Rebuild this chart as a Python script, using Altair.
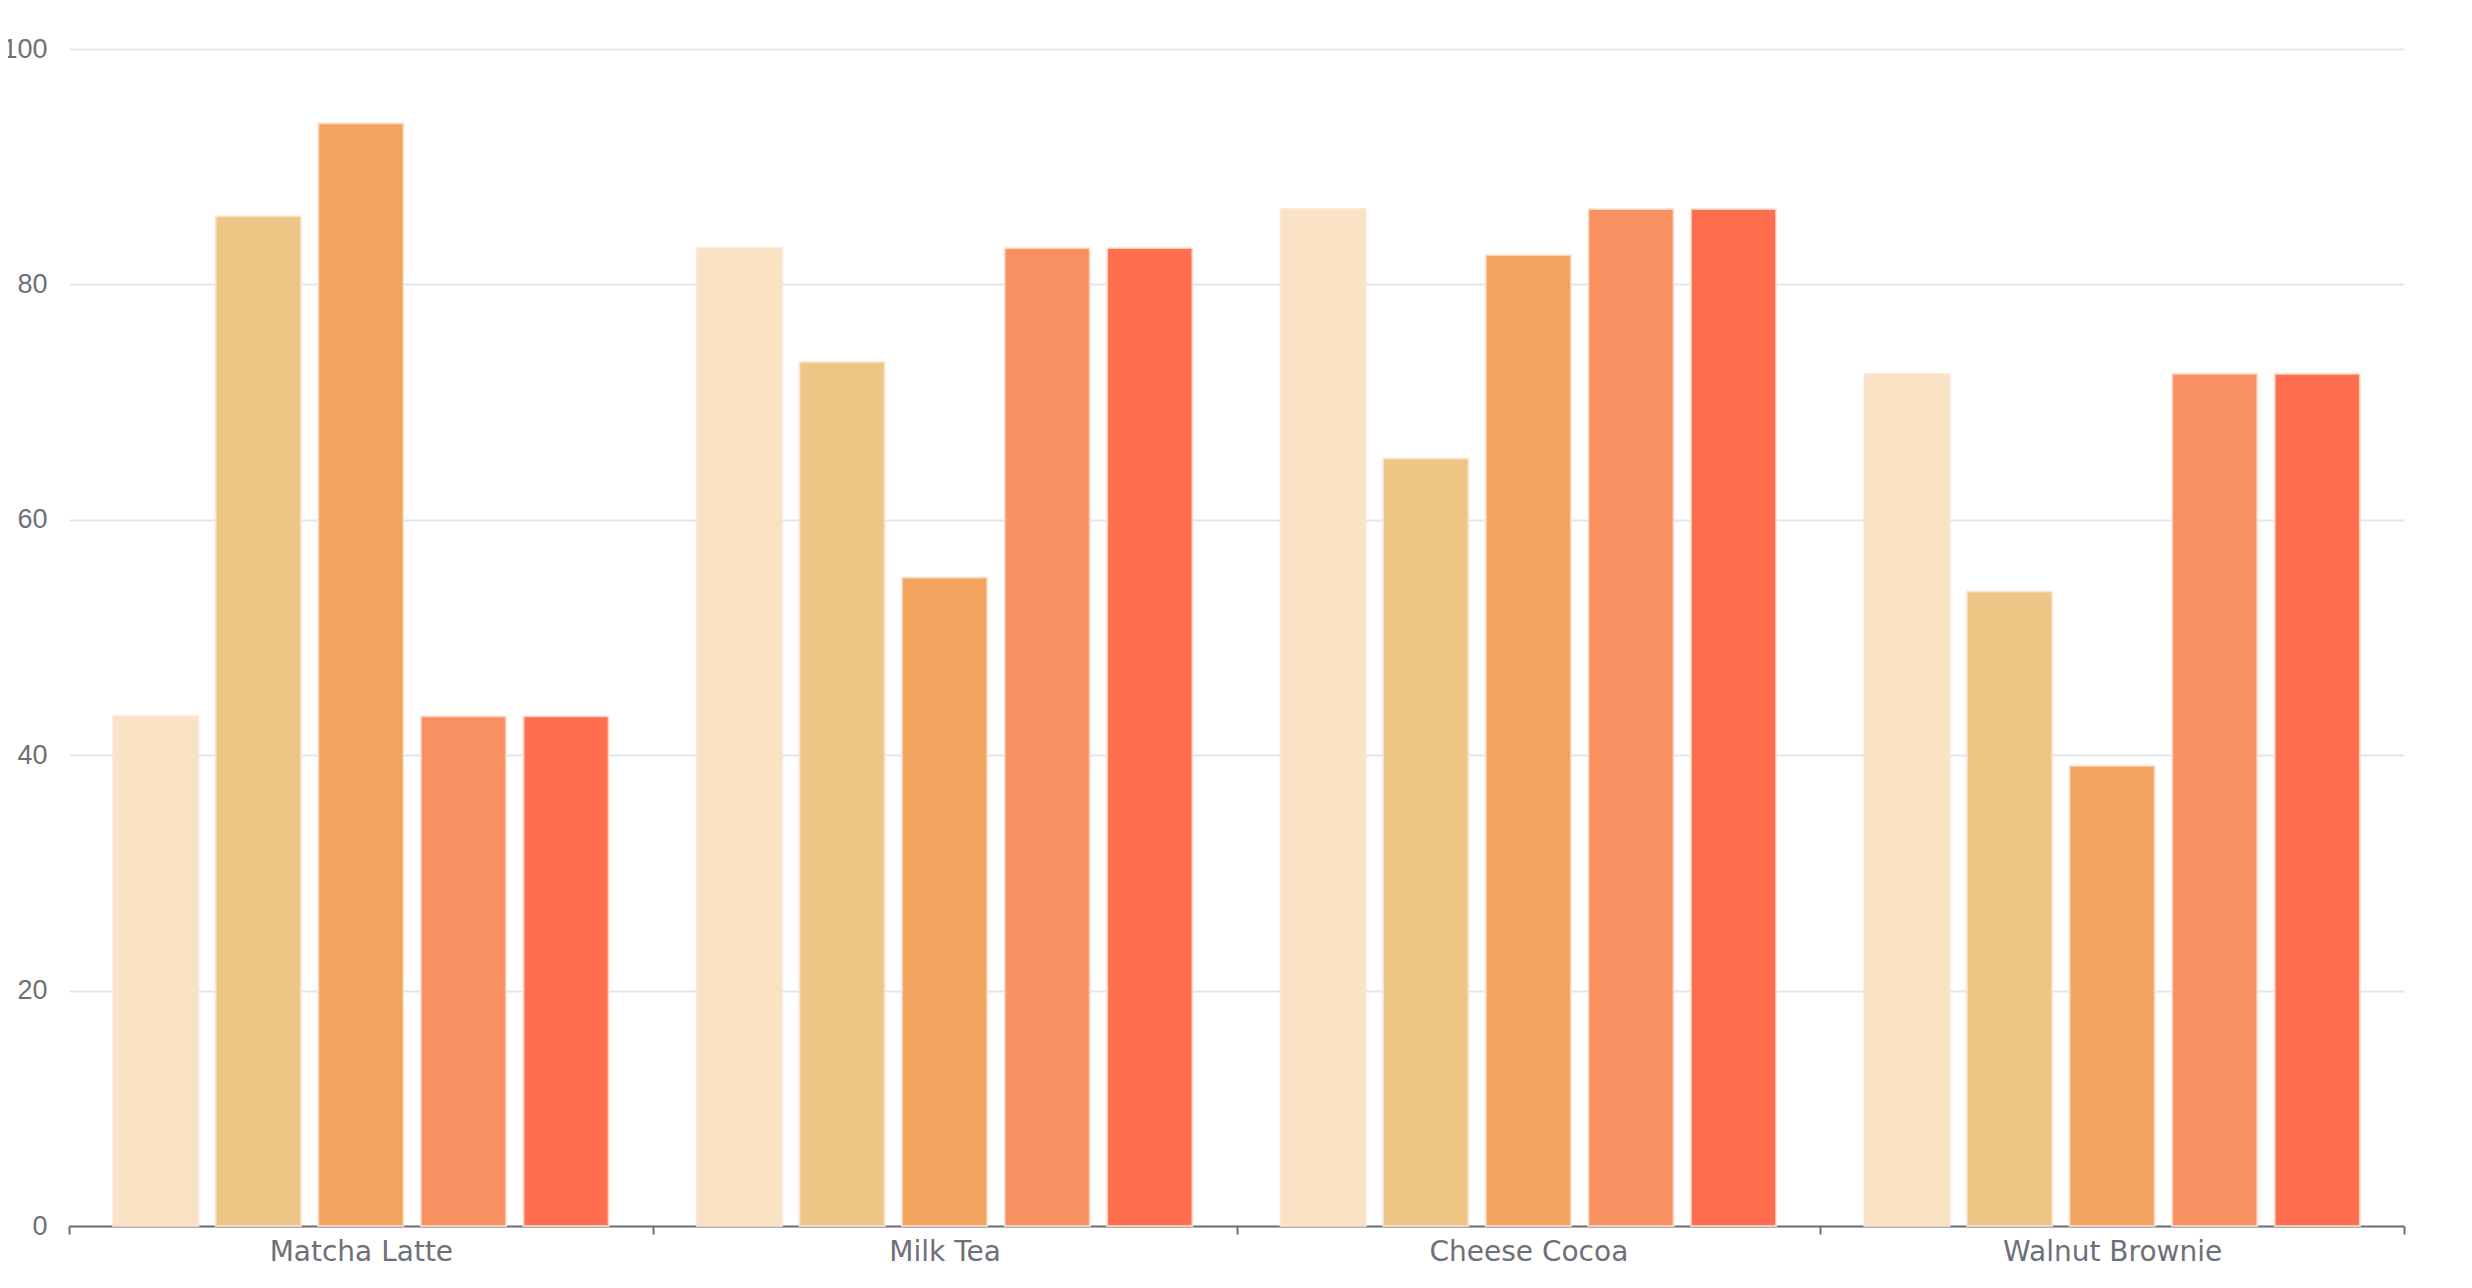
import altair as alt
import pandas as pd

products = ["Matcha Latte", "Milk Tea", "Cheese Cocoa", "Walnut Brownie"]
series_names = ["S1", "S2", "S3", "S4", "S5"]
s1 = [43.3, 83.1, 86.4, 72.4]
s2 = [85.8, 73.4, 65.2, 53.9]
s3 = [93.7, 55.1, 82.5, 39.1]
s4 = [43.3, 83.1, 86.4, 72.4]
s5 = [43.3, 83.1, 86.4, 72.4]
colors = ["#F9E3C4", "#EDC584", "#F2A45F", "#F89062", "#FF6E4E"]
y_ticks = [0, 20, 40, 60, 80, 100]

rows = []
for name, vals in zip(series_names, [s1, s2, s3, s4, s5]):
    for p, v in zip(products, vals):
        rows.append({"product": p, "series": name, "value": v})
df = pd.DataFrame(rows)

chart = alt.Chart(df).mark_bar(
    stroke="#FBE3D3", strokeWidth=2, strokeOpacity=0.8
).encode(
    x=alt.X("product:N", sort=products, title=None,
            scale=alt.Scale(paddingInner=0, paddingOuter=0),
            axis=alt.Axis(labelAngle=0, tickBand="extent", tickSize=8, tickWidth=2,
                          tickColor="#6E7079", domainColor="#6E7079", domainWidth=2,
                          labelColor="#6E7079", labelFont="DejaVu Sans", labelFontSize=28,
                          labelPadding=4, labelLimit=0, grid=False)),
    xOffset=alt.XOffset("series:N", sort=series_names,
                        scale=alt.Scale(paddingInner=0.169, paddingOuter=0.43)),
    y=alt.Y("value:Q", title=None,
            scale=alt.Scale(domain=[0, 100], nice=False),
            axis=alt.Axis(values=y_ticks, domain=False, ticks=False, tickSize=0,
                          labelPadding=22, labelColor="#6E7079", labelFont="Liberation Sans",
                          labelFontSize=27, gridColor="#E0E6F1", gridWidth=2)),
    color=alt.Color("series:N", sort=series_names, legend=None,
                    scale=alt.Scale(domain=series_names, range=colors)),
).properties(
    width=2335, height=1177,
    autosize=alt.AutoSizeParams(type="none"),
    padding={"left": 61, "top": 41, "right": 20, "bottom": 55},
).configure_view(stroke=None)

chart.save("out.html", embed_options={"renderer": "svg", "actions": False})
